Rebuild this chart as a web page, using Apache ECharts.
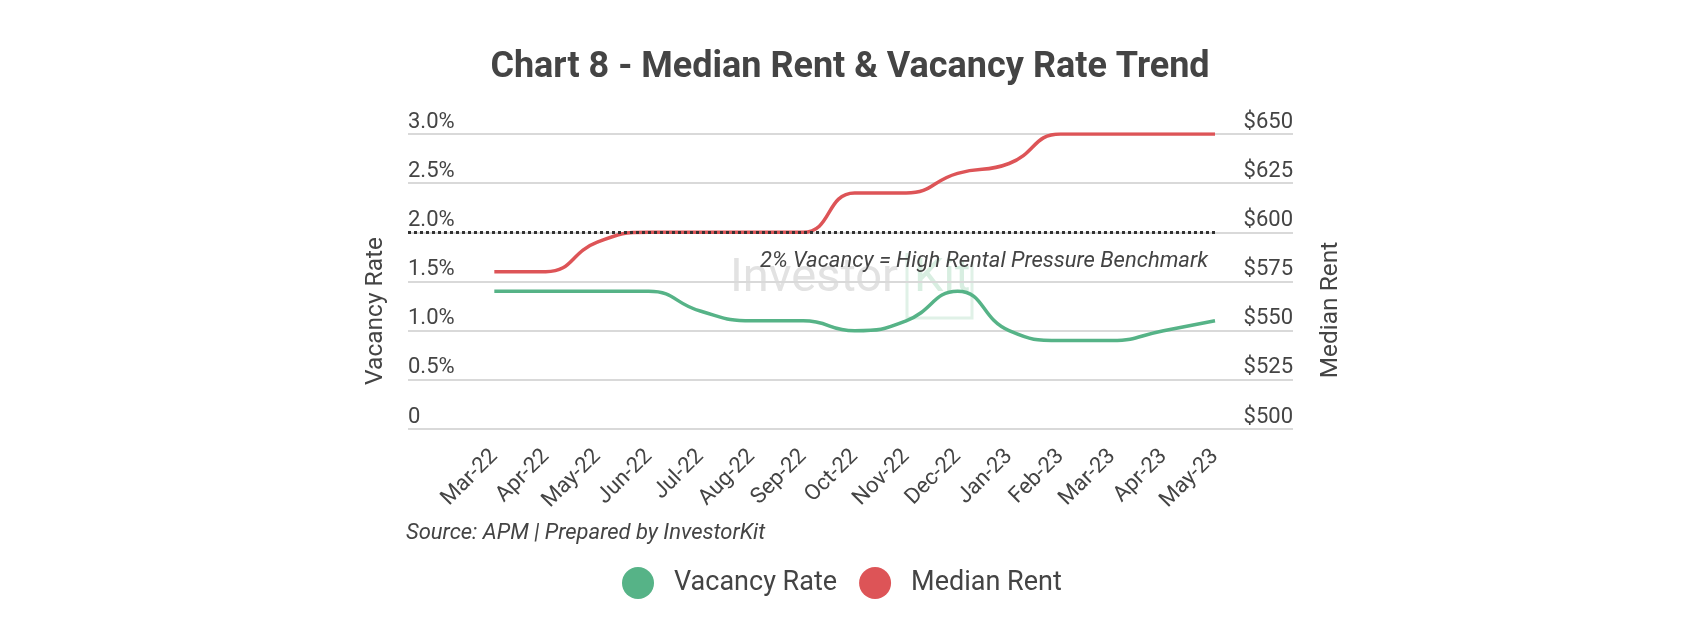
<!DOCTYPE html>
<html>
<head>
<meta charset="utf-8">
<title>Chart 8 - Median Rent & Vacancy Rate Trend</title>
<script src="https://cdn.jsdelivr.net/npm/echarts@6/dist/echarts.min.js"></script>
<style>
  html, body { margin: 0; padding: 0; background: #fff; }
  #chart { width: 1700px; height: 640px; }
</style>
</head>
<body>
<div id="chart"></div>
<script>
// data
var months = ['Mar-22', 'Apr-22', 'May-22', 'Jun-22', 'Jul-22', 'Aug-22', 'Sep-22', 'Oct-22',
  'Nov-22', 'Dec-22', 'Jan-23', 'Feb-23', 'Mar-23', 'Apr-23', 'May-23'];
var vacancyRate = [1.4, 1.4, 1.4, 1.4, 1.2, 1.1, 1.1, 1.0, 1.1, 1.4, 1.0, 0.9, 0.9, 1.0, 1.1];
var medianRent = [580, 580, 595, 600, 600, 600, 600, 620, 620, 630, 635, 650, 650, 650, 650];
var benchmark = 2;
var benchmarkLabel = '2% Vacancy = High Rental Pressure Benchmark';

var green = '#56b387';
var red = '#dd5457';
var textColor = '#444';

// x range leaves room on both sides like the original plot
var xMin = -1.677;
var xMax = 15.515;

var chartDom = document.getElementById('chart');
var myChart = echarts.init(chartDom);

var option = {
  animation: false,
  backgroundColor: '#fff',
  textStyle: { fontFamily: 'Roboto', color: textColor },
  title: {
    text: 'Chart 8 - Median Rent & Vacancy Rate Trend',
    left: 'center',
    top: 45,
    textStyle: { fontFamily: 'Roboto', fontSize: 36, fontWeight: 'bold', color: textColor }
  },
  legend: {
    data: ['Vacancy Rate', 'Median Rent'],
    left: 617,
    top: 562,
    icon: 'circle',
    itemWidth: 32,
    itemHeight: 32,
    itemGap: 22,
    textStyle: { fontFamily: 'Roboto', fontSize: 27, color: textColor, padding: [0, 0, 0, 15] }
  },
  grid: {
    left: 408,
    right: 407,
    top: 134,
    bottom: 211,
    containLabel: false,
    outerBoundsMode: 'none'
  },
  xAxis: {
    type: 'value',
    min: xMin,
    max: xMax,
    axisLine: { show: false },
    axisTick: { show: false },
    splitLine: { show: false },
    axisLabel: {
      customValues: months.map(function (m, i) { return i; }),
      formatter: function (v) { return months[v]; },
      rotate: 45,
      margin: 24,
      fontSize: 22,
      color: textColor,
      fontFamily: 'Roboto'
    }
  },
  yAxis: [
    {
      type: 'value',
      min: 0,
      max: 3,
      interval: 0.5,
      position: 'left',
      axisLine: { show: false },
      axisTick: { show: false },
      splitLine: { lineStyle: { color: '#d9d9d9', width: 2 } },
      axisLabel: {
        inside: true,
        margin: 0,
        align: 'left',
        verticalAlign: 'bottom',
        padding: [0, 0, 1, 0],
        fontSize: 22,
        color: textColor,
        formatter: function (v) { return v === 0 ? '0' : v.toFixed(1) + '%'; }
      }
    },
    {
      type: 'value',
      min: 500,
      max: 650,
      interval: 25,
      position: 'right',
      axisLine: { show: false },
      axisTick: { show: false },
      splitLine: { show: false },
      axisLabel: {
        inside: true,
        margin: 0,
        align: 'right',
        verticalAlign: 'bottom',
        padding: [0, 0, 1, 0],
        fontSize: 22,
        color: textColor,
        formatter: function (v) { return '$' + v; }
      }
    }
  ],
  series: [
    {
      name: 'Vacancy Rate',
      type: 'line',
      yAxisIndex: 0,
      data: months.map(function (m, i) { return [i, vacancyRate[i]]; }),
      smooth: 0.5,
      showSymbol: false,
      color: green,
      lineStyle: { color: green, width: 3.5 },
      z: 3,
      markLine: {
        silent: true,
        symbol: ['none', 'none'],
        lineStyle: { type: [3, 3], color: '#333', width: 3 },
        label: {
          show: true,
          position: 'insideEndBottom',
          formatter: benchmarkLabel,
          fontStyle: 'italic',
          fontSize: 22,
          color: textColor,
          distance: [7, 18]
        },
        data: [[{ coord: [xMin, benchmark] }, { coord: [months.length - 1, benchmark] }]]
      }
    },
    {
      name: 'Median Rent',
      type: 'line',
      yAxisIndex: 1,
      data: months.map(function (m, i) { return [i, medianRent[i]]; }),
      smooth: 0.5,
      showSymbol: false,
      color: red,
      lineStyle: { color: red, width: 3.5 },
      z: 3
    }
  ],
  graphic: [
    // watermark
    {
      type: 'text', z: 0, silent: true,
      style: { x: 730, y: 303, text: 'Investor', fill: '#e2e2e2', font: '47px Roboto', textVerticalAlign: 'bottom' }
    },
    {
      type: 'text', z: 0, silent: true,
      style: { x: 914, y: 303, text: 'Kit', fill: '#d8eee1', font: '47px Roboto', textVerticalAlign: 'bottom' }
    },
    {
      type: 'polyline', z: 0, silent: true,
      shape: { points: [[907, 253], [907, 318], [972, 318], [972, 262]] },
      style: { stroke: '#e0f1e7', lineWidth: 3, fill: null }
    },
    // axis titles
    {
      type: 'text', x: 376, y: 311, rotation: Math.PI / 2,
      style: { text: 'Vacancy Rate', fill: textColor, font: '24.5px Roboto', textAlign: 'center', textVerticalAlign: 'middle' }
    },
    {
      type: 'text', x: 1331, y: 310, rotation: Math.PI / 2,
      style: { text: 'Median Rent', fill: textColor, font: '24.5px Roboto', textAlign: 'center', textVerticalAlign: 'middle' }
    },
    // source note
    {
      type: 'text', x: 406, y: 533,
      style: { text: 'Source: APM | Prepared by InvestorKit', fill: textColor, font: 'italic 22px Roboto', textVerticalAlign: 'middle' }
    }
  ]
};

myChart.setOption(option);
</script>
</body>
</html>
